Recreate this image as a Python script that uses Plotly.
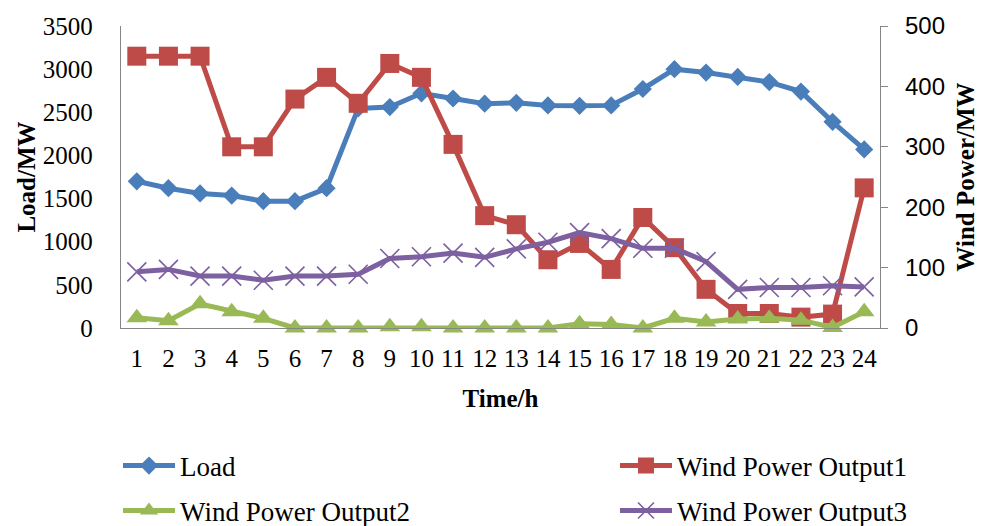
import plotly.graph_objects as go

hours = list(range(1, 25))
hour_labels = [str(h) for h in hours]
load = [1700, 1620, 1560, 1535, 1470, 1470, 1620, 2545, 2560, 2720, 2660, 2600,
        2610, 2580, 2575, 2580, 2770, 3000, 2960, 2910, 2850, 2740, 2390, 2070]
wind1 = [450, 450, 450, 300, 300, 379, 415, 372, 438, 415, 304, 186,
         171, 113, 140, 97, 183, 133, 64, 24, 24, 18, 23, 232]
wind2 = [17, 12, 40, 27, 16, 0, 0, 0, 2, 2, 0, 0,
         0, 0, 7, 6, 0, 16, 10, 15, 16, 13, 1, 27]
wind3 = [93, 97, 86, 86, 79, 86, 86, 89, 115, 118, 124, 117,
         131, 142, 158, 148, 132, 132, 110, 64, 67, 67, 70, 68]

left_ticks = [0, 500, 1000, 1500, 2000, 2500, 3000, 3500]
right_ticks = [0, 100, 200, 300, 400, 500]

BLUE = "#4A7EBB"
RED = "#BE4B48"
GREEN = "#98B954"
PURPLE = "#7D60A0"
SERIF = "Liberation Serif"
SANS = "Liberation Sans"

fig = go.Figure()
fig.add_trace(go.Scatter(x=hour_labels, y=load, name="Load", mode="lines+markers",
                         line=dict(color=BLUE, width=5),
                         marker=dict(symbol="diamond", size=14, color=BLUE),
                         cliponaxis=False, legend="legend"))
fig.add_trace(go.Scatter(x=hour_labels, y=wind1, name="Wind Power Output1", mode="lines+markers",
                         line=dict(color=RED, width=5),
                         marker=dict(symbol="square", size=19, color=RED),
                         yaxis="y2", cliponaxis=False, legend="legend2"))
fig.add_trace(go.Scatter(x=hour_labels, y=wind2, name="Wind Power Output2", mode="lines+markers",
                         line=dict(color=GREEN, width=5),
                         marker=dict(symbol="triangle-up", size=18, color=GREEN),
                         yaxis="y2", cliponaxis=False, legend="legend3"))
fig.add_trace(go.Scatter(x=hour_labels, y=wind3, name="Wind Power Output3", mode="lines+markers",
                         line=dict(color=PURPLE, width=5),
                         marker=dict(symbol="x-thin", size=19, color=PURPLE,
                                     line=dict(color=PURPLE, width=1.6)),
                         yaxis="y2", cliponaxis=False, legend="legend4"))

legend_common = dict(orientation="h", xref="container", yref="container",
                     xanchor="left", yanchor="middle",
                     font=dict(family=SERIF, size=27, color="black"),
                     bgcolor="rgba(0,0,0,0)", itemwidth=52, itemsizing="trace")

fig.update_layout(
    width=986, height=526,
    margin=dict(l=121, r=104, t=20, b=198),
    paper_bgcolor="white", plot_bgcolor="white",
    showlegend=True,
    legend=dict(x=118 / 986, y=1 - 466 / 526, **legend_common),
    legend2=dict(x=615 / 986, y=1 - 466 / 526, **legend_common),
    legend3=dict(x=118 / 986, y=1 - 511 / 526, **legend_common),
    legend4=dict(x=615 / 986, y=1 - 511 / 526, **legend_common),
    xaxis=dict(
        type="category", categoryorder="array", categoryarray=hour_labels,
        tickmode="array", tickvals=hour_labels, ticktext=hour_labels,
        range=[-0.5, len(hour_labels) - 0.5], autorange=False,
        showline=True, linecolor="#868686", linewidth=1.3,
        ticks="", showgrid=False, zeroline=False,
        tickfont=dict(family=SERIF, size=25, color="black"),
        ticklabelstandoff=8,
        title=dict(text="<b>Time/h</b>", font=dict(family=SERIF, size=25, color="black"),
                   standoff=18),
    ),
    yaxis=dict(
        range=[0, 3500], tickvals=left_ticks, ticktext=[str(v) for v in left_ticks],
        showline=True, linecolor="#868686", linewidth=1.3,
        ticks="", showgrid=False, zeroline=False,
        tickfont=dict(family=SERIF, size=25, color="black"),
        ticklabelstandoff=22,
        title=dict(text="<b>Load/MW</b>", font=dict(family=SERIF, size=25, color="black"),
                   standoff=0),
    ),
    yaxis2=dict(
        range=[0, 500], tickvals=right_ticks, ticktext=[str(v) for v in right_ticks],
        overlaying="y", side="right",
        showline=True, linecolor="#868686", linewidth=1.3,
        ticks="outside", ticklen=7, tickcolor="#868686", tickwidth=1.3,
        showgrid=False, zeroline=False,
        tickfont=dict(family=SANS, size=24, color="black"),
        ticklabelstandoff=12,
        title=dict(text="<b>Wind Power/MW</b>", font=dict(family=SERIF, size=25, color="black"),
                   standoff=12),
    ),
)

fig.write_html("out.html")
